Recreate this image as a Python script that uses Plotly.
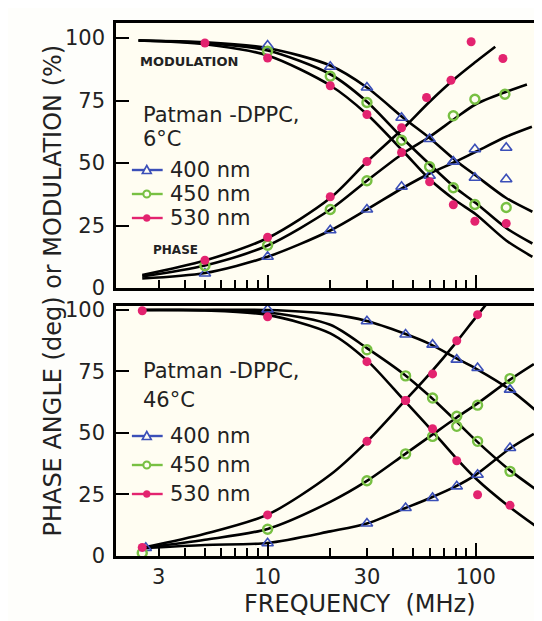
import math
import plotly.graph_objects as go

FONT = "DejaVu Sans"
BLUE = "#3b4fb8"
GREEN = "#78c043"
PINK = "#e3236f"
PLOT_BG = "#fffdf2"

# ---------------- measured points : top panel (6 °C) ----------------
t_blue_mod_f = [10, 20, 30, 44, 60, 78, 99, 140]
t_blue_mod = [97, 88.5, 80.2, 68.1, 59.6, 50.5, 44.1, 43.5]
t_blue_ph_f = [5, 10, 20, 30, 44, 60, 78, 99, 140]
t_blue_ph = [5.8, 12.5, 23.1, 31.4, 40.5, 44.9, 50.5, 55.5, 56.1]

t_green_mod_f = [10, 20, 30, 44, 60, 78, 99, 140]
t_green_mod = [94.7, 84.7, 74.2, 59.1, 48.5, 40.1, 33.4, 32.2]
t_green_ph_f = [5, 10, 20, 30, 78, 99, 138]
t_green_ph = [8.9, 17.1, 31.4, 42.9, 68.9, 75.5, 77.5]

t_pink_mod_f = [5, 10, 20, 30, 44, 60, 78, 99, 140]
t_pink_mod = [98, 92, 80.9, 69.4, 54.2, 42.5, 33.3, 26.7, 25.8]
t_pink_ph_f = [5, 10, 20, 30, 44, 58, 76, 95, 135]
t_pink_ph = [11.1, 20.3, 36.5, 50.6, 64.1, 76.2, 83.1, 98.5, 91.8]

# ---------------- fitted curves : top panel ----------------
t_mod_curve_f = [2.4, 5, 10, 20, 30, 45, 60, 80, 100, 140, 187]
t_blue_mod_curve = [99, 98.3, 96, 89, 80.2, 68, 60, 51, 45, 36, 30.5]
t_green_mod_curve = [99, 98, 95, 85.5, 74.5, 59.5, 49.5, 40, 34, 24, 17.8]
t_pink_mod_curve = [99, 97.5, 93, 81, 69.5, 54.5, 43.5, 35, 29.5, 19, 12.5]

t_pink_ph_curve_f = [2.5, 5, 10, 20, 30, 45, 60, 80, 100, 124]
t_pink_ph_curve = [5.2, 11, 20, 36, 50.5, 64, 74.5, 84, 90.5, 96.5]
t_green_ph_curve_f = [2.5, 5, 10, 20, 30, 45, 60, 80, 100, 140, 176]
t_green_ph_curve = [4.6, 9, 17, 31.4, 42.9, 54, 60.5, 68, 73.5, 78.5, 81.4]
t_blue_ph_curve_f = [2.5, 5, 10, 20, 30, 45, 60, 80, 100, 140, 186]
t_blue_ph_curve = [3.8, 6, 12.5, 23, 31.4, 40.2, 45.8, 50.5, 54.5, 60.5, 64.5]

# ---------------- measured points : bottom panel (46 °C) ----------------
b_blue_mod_f = [10, 30, 46, 62, 81, 102, 146]
b_blue_mod = [100.2, 95.4, 90, 85.9, 79.8, 76.4, 67.6]
b_blue_ph_f = [2.6, 10, 30, 46, 62, 81, 102, 146]
b_blue_ph = [3.3, 5.2, 13.2, 19.5, 23.6, 28.3, 33, 43.9]

b_green_mod_f = [30, 46, 62, 81, 102, 146]
b_green_mod = [83.8, 73.2, 64.2, 52.7, 46.6, 34.4]
b_green_ph_f = [2.5, 10, 30, 46, 62, 81, 102, 146]
b_green_ph = [1.2, 10.9, 30.6, 41.5, 48.6, 56.8, 61.3, 72.1]

b_pink_mod_f = [2.5, 10, 30, 46, 62, 81, 102, 146]
b_pink_mod = [99.7, 97.2, 79, 63.2, 51.7, 38.7, 24.9, 20.6]
b_pink_ph_f = [2.5, 10, 30, 46, 62, 81, 102]
b_pink_ph = [3.5, 16.7, 46.6, 63.2, 74, 87.5, 98.1]

# ---------------- fitted curves : bottom panel ----------------
b_mod_curve_f = [2.5, 5, 10, 20, 30, 45, 60, 80, 100, 145, 195]
b_blue_mod_curve = [100, 100, 100, 98.3, 95.5, 90.5, 86.2, 80.5, 76.2, 67.8, 59]
b_green_mod_curve = [100, 100, 99, 94, 84.5, 74, 65, 55, 47, 35, 27]
b_pink_mod_curve = [100, 99.8, 98, 90.5, 79.5, 63.5, 52, 40, 31.5, 20, 12]

b_pink_ph_curve_f = [2.6, 5, 10, 20, 30, 45, 60, 80, 100, 114]
b_pink_ph_curve = [3.6, 9, 16.8, 33, 46.5, 62.5, 74, 86.5, 97, 103]
b_ph_curve_f = [2.6, 5, 10, 20, 30, 45, 60, 80, 100, 145, 190]
b_green_ph_curve = [3.4, 6.6, 11, 22, 30.5, 41, 48.5, 56, 61.5, 71.5, 78]
b_blue_ph_curve = [3.3, 4.5, 5.3, 10, 13.2, 19.2, 23.5, 28.3, 33, 43.5, 49.6]

# ---------------- axes / labels ----------------
series_names = ["400 nm", "450 nm", "530 nm"]
x_label_vals = [3, 10, 30, 100]
x_label_text = ["3", "10", "30", "100"]
x_major_ticks = [10, 100]
x_minor_ticks = [3, 4, 5, 6, 7, 8, 9, 20, 30, 40, 50, 60, 70, 80, 90, 200]
y_ticks = [0, 25, 50, 75, 100]
x_range = [1.87, 215]
top_y_range = [0, 106]
bot_y_range = [0, 101.6]

fig = go.Figure()


def curve(f, v, xa, ya):
    fig.add_trace(go.Scatter(x=f, y=v, mode="lines", xaxis=xa, yaxis=ya,
                             line=dict(color="black", width=2.6, shape="spline", smoothing=0.8),
                             showlegend=False, hoverinfo="skip"))


def points(f, v, xa, ya, name, sym, color, size, lw):
    fig.add_trace(go.Scatter(x=f, y=v, mode="markers", xaxis=xa, yaxis=ya, name=name,
                             marker=dict(symbol=sym, size=size, color=color,
                                         line=dict(color=color, width=lw)),
                             showlegend=False, cliponaxis=False))


styles = [("triangle-up-open", BLUE, 10, 1.6),
          ("circle-open", GREEN, 9, 2.4),
          ("circle", PINK, 9, 0)]

# top curves
for v in (t_blue_mod_curve, t_green_mod_curve, t_pink_mod_curve):
    curve(t_mod_curve_f, v, "x2", "y2")
curve(t_pink_ph_curve_f, t_pink_ph_curve, "x2", "y2")
curve(t_green_ph_curve_f, t_green_ph_curve, "x2", "y2")
curve(t_blue_ph_curve_f, t_blue_ph_curve, "x2", "y2")
# bottom curves
for v in (b_blue_mod_curve, b_green_mod_curve, b_pink_mod_curve):
    curve(b_mod_curve_f, v, "x", "y")
curve(b_pink_ph_curve_f, b_pink_ph_curve, "x", "y")
curve(b_ph_curve_f, b_green_ph_curve, "x", "y")
curve(b_ph_curve_f, b_blue_ph_curve, "x", "y")

top_sets = [(t_blue_mod_f, t_blue_mod, t_blue_ph_f, t_blue_ph),
            (t_green_mod_f, t_green_mod, t_green_ph_f, t_green_ph),
            (t_pink_mod_f, t_pink_mod, t_pink_ph_f, t_pink_ph)]
bot_sets = [(b_blue_mod_f, b_blue_mod, b_blue_ph_f, b_blue_ph),
            (b_green_mod_f, b_green_mod, b_green_ph_f, b_green_ph),
            (b_pink_mod_f, b_pink_mod, b_pink_ph_f, b_pink_ph)]

for (mf, mv, pf, pv), nm, st in zip(top_sets, series_names, styles):
    points(mf, mv, "x2", "y2", nm, *st)
    points(pf, pv, "x2", "y2", nm, *st)
for (mf, mv, pf, pv), nm, st in zip(bot_sets, series_names, styles):
    points(mf, mv, "x", "y", nm, *st)
    points(pf, pv, "x", "y", nm, *st)

# long ticks at decades (overlay axes)
fig.add_trace(go.Scatter(x=[None], y=[None], xaxis="x3", yaxis="y", showlegend=False))
fig.add_trace(go.Scatter(x=[None], y=[None], xaxis="x4", yaxis="y2", showlegend=False))

xr = [math.log10(x_range[0]), math.log10(x_range[1])]

frame = dict(showline=True, linecolor="black", linewidth=2.6, mirror=True,
             showgrid=False, zeroline=False)
xbase = dict(type="log", range=xr, ticks="inside", ticklen=8, tickwidth=2, tickcolor="black",
             tickvals=x_label_vals, ticktext=x_label_text,
             minor=dict(tickmode="array", tickvals=x_minor_ticks, ticks="inside",
                        ticklen=8, tickwidth=2, tickcolor="black", showgrid=False),
             **frame)
ybase = dict(tickvals=y_ticks, ticks="inside", ticklen=13, tickwidth=2, tickcolor="black",
             tickfont=dict(family=FONT, size=21, color="#222"), ticklabelstandoff=4, **frame)
over = dict(type="log", range=xr, tickvals=x_major_ticks, ticks="inside", ticklen=13,
            tickwidth=2, tickcolor="black", showticklabels=False, showgrid=False,
            zeroline=False, showline=False)

fig.update_layout(
    width=542, height=621,
    margin=dict(l=108, r=2, t=15, b=73),
    paper_bgcolor="#fefefb", plot_bgcolor=PLOT_BG,
    font=dict(family=FONT, color="#222"),
    showlegend=False,
    xaxis=dict(anchor="y", tickfont=dict(family=FONT, size=21, color="#222"), **xbase),
    xaxis2=dict(anchor="y2", matches="x", showticklabels=False, **xbase),
    xaxis3=dict(overlaying="x", anchor="y", **over),
    xaxis4=dict(overlaying="x2", anchor="y2", **over),
    yaxis=dict(domain=[0, 0.469], range=bot_y_range, **ybase),
    yaxis2=dict(domain=[0.5028, 1], range=top_y_range, **ybase),
)


def pxx(px):
    return (px - 108) / 432


def pxy(py):
    return (548 - py) / 533


# ---- key glyphs (line + symbol) for the two in-panel keys ----
key_rows = {"top": [162, 186, 210], "bottom": [428, 457, 486]}
for rows in key_rows.values():
    for row, (sym, col, size, lw) in zip(rows, styles):
        fig.add_shape(type="line", xref="paper", yref="paper",
                      x0=pxx(124), x1=pxx(155), y0=pxy(row), y1=pxy(row),
                      line=dict(color=col, width=2.4))
        if sym.startswith("triangle"):
            path = (f"M {pxx(134.5)},{pxy(row + 3.5)} L {pxx(143.5)},{pxy(row + 3.5)} "
                    f"L {pxx(139)},{pxy(row - 4.5)} Z")
            fig.add_shape(type="path", path=path, xref="paper", yref="paper",
                          fillcolor=PLOT_BG, line=dict(color=col, width=1.6))
        else:
            r = 3.5
            fig.add_shape(type="circle", xref="paper", yref="paper",
                          x0=pxx(139 - r), x1=pxx(139 + r), y0=pxy(row + r), y1=pxy(row - r),
                          fillcolor=col if sym == "circle" else PLOT_BG,
                          line=dict(color=col, width=2 if sym != "circle" else 0.5))

annos = [
    ("Patman -DPPC,", 133, 107, 21, False, "left"),
    ("6°C", 133, 131, 21, False, "left"),
    (series_names[0], 160, 162, 21, False, "left"),
    (series_names[1], 160, 186, 21, False, "left"),
    (series_names[2], 160, 210, 21, False, "left"),
    ("Patman -DPPC,", 133, 363, 21, False, "left"),
    ("46°C", 133, 392, 21, False, "left"),
    (series_names[0], 160, 428, 21, False, "left"),
    (series_names[1], 160, 457, 21, False, "left"),
    (series_names[2], 160, 486, 21, False, "left"),
    ("MODULATION", 182, 53, 13, True, "center"),
    ("PHASE", 168, 242, 12, True, "center"),
]
for txt, px, py, sz, bold, al in annos:
    fig.add_annotation(text=f"<b>{txt}</b>" if bold else txt, x=pxx(px), y=pxy(py),
                       xref="paper", yref="paper",
                       xanchor=al, yanchor="middle", showarrow=False,
                       font=dict(family=FONT, size=sz, color="#222"))

fig.add_annotation(text="PHASE ANGLE (deg) or MODULATION (%)", x=pxx(28), y=pxy(283),
                   xref="paper", yref="paper", textangle=-90, showarrow=False,
                   font=dict(family=FONT, size=24, color="#222"))
fig.add_annotation(text="FREQUENCY  (MHz)", x=pxx(354), y=pxy(612), xref="paper", yref="paper",
                   showarrow=False, font=dict(family=FONT, size=24, color="#222"))

fig.write_html("out.html")
